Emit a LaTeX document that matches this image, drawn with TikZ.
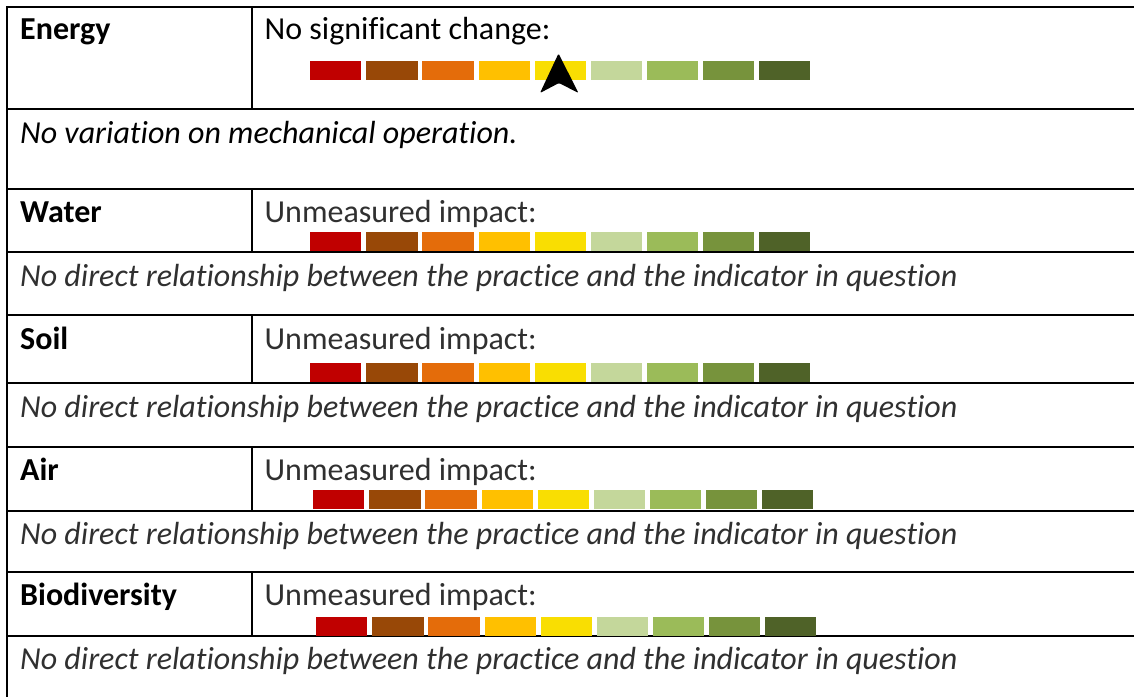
\documentclass[tikz,border=0pt]{standalone}
\usepackage{fontspec}
\setmainfont{Carlito}[Ligatures=NoCommon]
\definecolor{cR}{HTML}{C00000}
\definecolor{cB}{HTML}{984807}
\definecolor{cO}{HTML}{E46C0A}
\definecolor{cA}{HTML}{FFC000}
\definecolor{cY}{HTML}{F9DE02}
\definecolor{cLG}{HTML}{C4D79B}
\definecolor{cG}{HTML}{9BBB59}
\definecolor{cDG}{HTML}{77933C}
\definecolor{cDD}{HTML}{4F6228}
\definecolor{txtgray}{HTML}{303030}
\begin{document}
\begin{tikzpicture}[x=1pt,y=-1pt,
  txt/.style={font=\fontsize{32}{38}\selectfont, inner sep=0pt, anchor=base west},
  head/.style={txt, font=\fontsize{32}{38}\selectfont\bfseries},
  note/.style={txt, font=\fontsize{32}{38}\selectfont\itshape},
  rule/.style={line width=1.7pt, black},
  barcell/.style={inner sep=0pt, minimum width=51.2pt, minimum height=19pt, anchor=north west}]
\useasboundingbox (0,0) rectangle (1134,697);
\fill[white] (0,0) rectangle (1134,697);

% horizontal rules
\foreach \yy in {7,109,189,252,315,383,447,511,572,636}
  \draw[rule] (6.15,\yy) -- (1134,\yy);
% left border
\draw[rule] (7,6.15) -- (7,697);
% dividers
\foreach \ya/\yb in {7/109,189/252,315/383,447/511,572/636}
  \draw[rule] (252,\ya) -- (252,\yb);

% bars
\foreach \bx/\by/\nm in {310/61/e,310/232/w,310/363/s,313/490/a,316/617/b}{
  \foreach \c [count=\i from 0] in {cR,cB,cO,cA,cY,cLG,cG,cDG,cDD}
    \node[barcell, fill=\c] (bar-\nm-\i) at (\bx+\i*56.1,\by) {};
}

% arrow
\fill[black, rounded corners=1.2pt] (558.5,53.5) -- (578.5,93) -- (559,83) -- (540,93) -- cycle;

% Energy
\node[head] (energy) at (20,39) {Energy};
\node[txt] (energyv) at (264.5,39) {No significant change:};
\node[note] (energyn) at (20,143) {No variation on mechanical operation.};
% Water
\node[head] (water) at (20,222) {Water};
\node[txt, text=txtgray] (waterv) at (264.5,222) {Unmeasured impact:};
\node[note, text=txtgray] (watern) at (20,286) {No direct relationship between the practice and the indicator in question};
% Soil
\node[head] (soil) at (20,349) {Soil};
\node[txt, text=txtgray] (soilv) at (264.5,349) {Unmeasured impact:};
\node[note, text=txtgray] (soiln) at (20,417) {No direct relationship between the practice and the indicator in question};
% Air
\node[head] (air) at (20,480) {Air};
\node[txt, text=txtgray] (airv) at (264.5,480) {Unmeasured impact:};
\node[note, text=txtgray] (airn) at (20,544) {No direct relationship between the practice and the indicator in question};
% Biodiversity
\node[head] (bio) at (20,605) {Biodiversity};
\node[txt, text=txtgray] (biov) at (264.5,605) {Unmeasured impact:};
\node[note, text=txtgray] (bion) at (20,669) {No direct relationship between the practice and the indicator in question};
\end{tikzpicture}
\end{document}
